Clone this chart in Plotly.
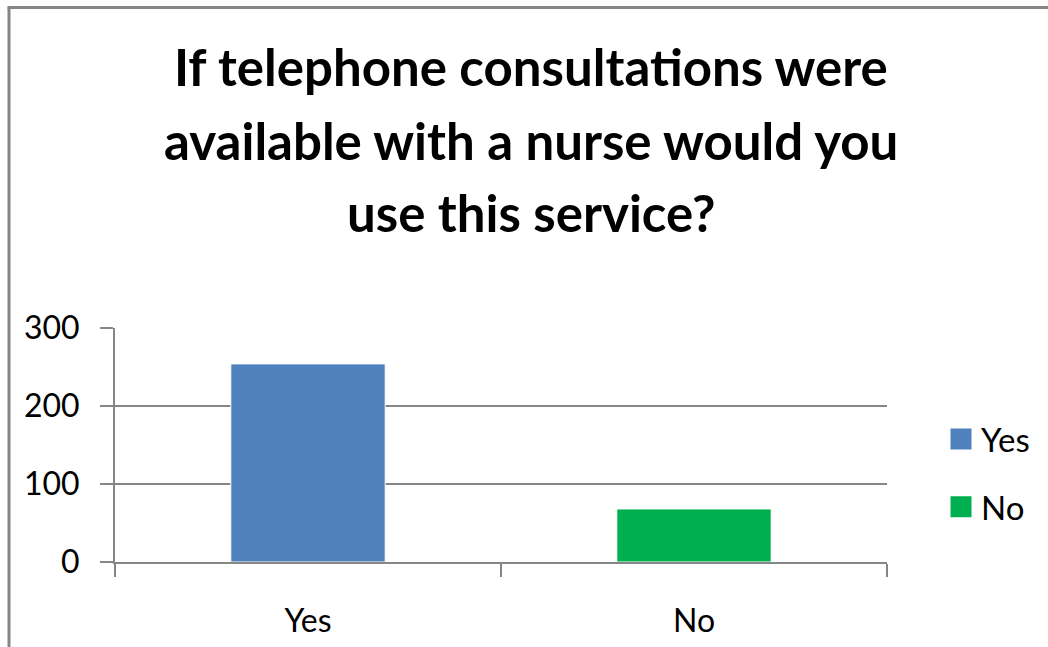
import plotly.graph_objects as go

# Survey answers
categories = ["Yes", "No"]
counts = [254, 68]
bar_colors = ["#4F81BD", "#00B050"]

title_lines = [
    "If telephone consultations were",
    "available with a nurse would you",
    "use this service?",
]
y_ticks = [0, 100, 200, 300]

W, H = 1048, 647
L, R, T, B = 115, 161, 328, 85
plot_w = W - L - R
plot_h = H - T - B


def px_x(p):
    return (p - L) / plot_w


def px_y(p):
    return (H - B - p) / plot_h


grid = "#868686"
font_name = "Lato"

fig = go.Figure()

# one bar trace per answer
for cat, val, col in zip(categories, counts, bar_colors):
    fig.add_trace(go.Bar(
        x=[cat], y=[val], name=cat,
        marker=dict(color=col, line=dict(color="white", width=1)),
        showlegend=False, offsetgroup="a",
    ))

# legend swatches
for cat, col in zip(categories, bar_colors):
    fig.add_trace(go.Scatter(
        x=[None], y=[None], mode="markers", name=cat,
        legendgroup=cat,
        marker=dict(symbol="square", size=16, color=col,
                    line=dict(color=col, width=5)),
    ))

# title, one line per annotation
for line, mid in zip(title_lines, [66, 140, 212]):
    fig.add_annotation(
        text=f"<b>{line}</b>", x=px_x(531), y=px_y(mid),
        xref="paper", yref="paper", xanchor="center", yanchor="middle",
        showarrow=False, font=dict(family=font_name, size=51, color="black"),
    )

# outer frame (left and top edges)
fig.add_shape(type="line", xref="paper", yref="paper",
              x0=px_x(9), x1=px_x(9), y0=px_y(700), y1=px_y(7.5),
              line=dict(color=grid, width=3))
fig.add_shape(type="line", xref="paper", yref="paper",
              x0=px_x(7.5), x1=px_x(1100), y0=px_y(7.5), y1=px_y(7.5),
              line=dict(color=grid, width=3))

fig.update_layout(
    width=W, height=H,
    margin=dict(l=L, r=R, t=T, b=B, autoexpand=False),
    paper_bgcolor="white", plot_bgcolor="white",
    bargap=0.6, barmode="overlay",
    font=dict(family=font_name, color="black"),
    legend=dict(
        x=px_x(941), y=px_y(411), xanchor="left", yanchor="top",
        font=dict(size=33, family=font_name), tracegroupgap=22,
        bgcolor="rgba(0,0,0,0)", traceorder="grouped",
    ),
    xaxis=dict(
        range=[-0.5, 1.5], showline=True, linecolor=grid, linewidth=2,
        ticks="outside", tickson="boundaries", ticklen=13, tickwidth=2,
        tickcolor=grid, showgrid=False, zeroline=False,
        tickfont=dict(size=32, family=font_name), ticklabelstandoff=30,
    ),
    yaxis=dict(
        range=[0, 300], tickvals=y_ticks, showline=True, linecolor=grid,
        linewidth=2, ticks="outside", ticklen=13, tickwidth=2, tickcolor=grid,
        showgrid=True, gridcolor=grid, gridwidth=2, zeroline=False,
        tickfont=dict(size=32, family=font_name), ticklabelstandoff=14,
    ),
)

fig.write_html("out.html")
